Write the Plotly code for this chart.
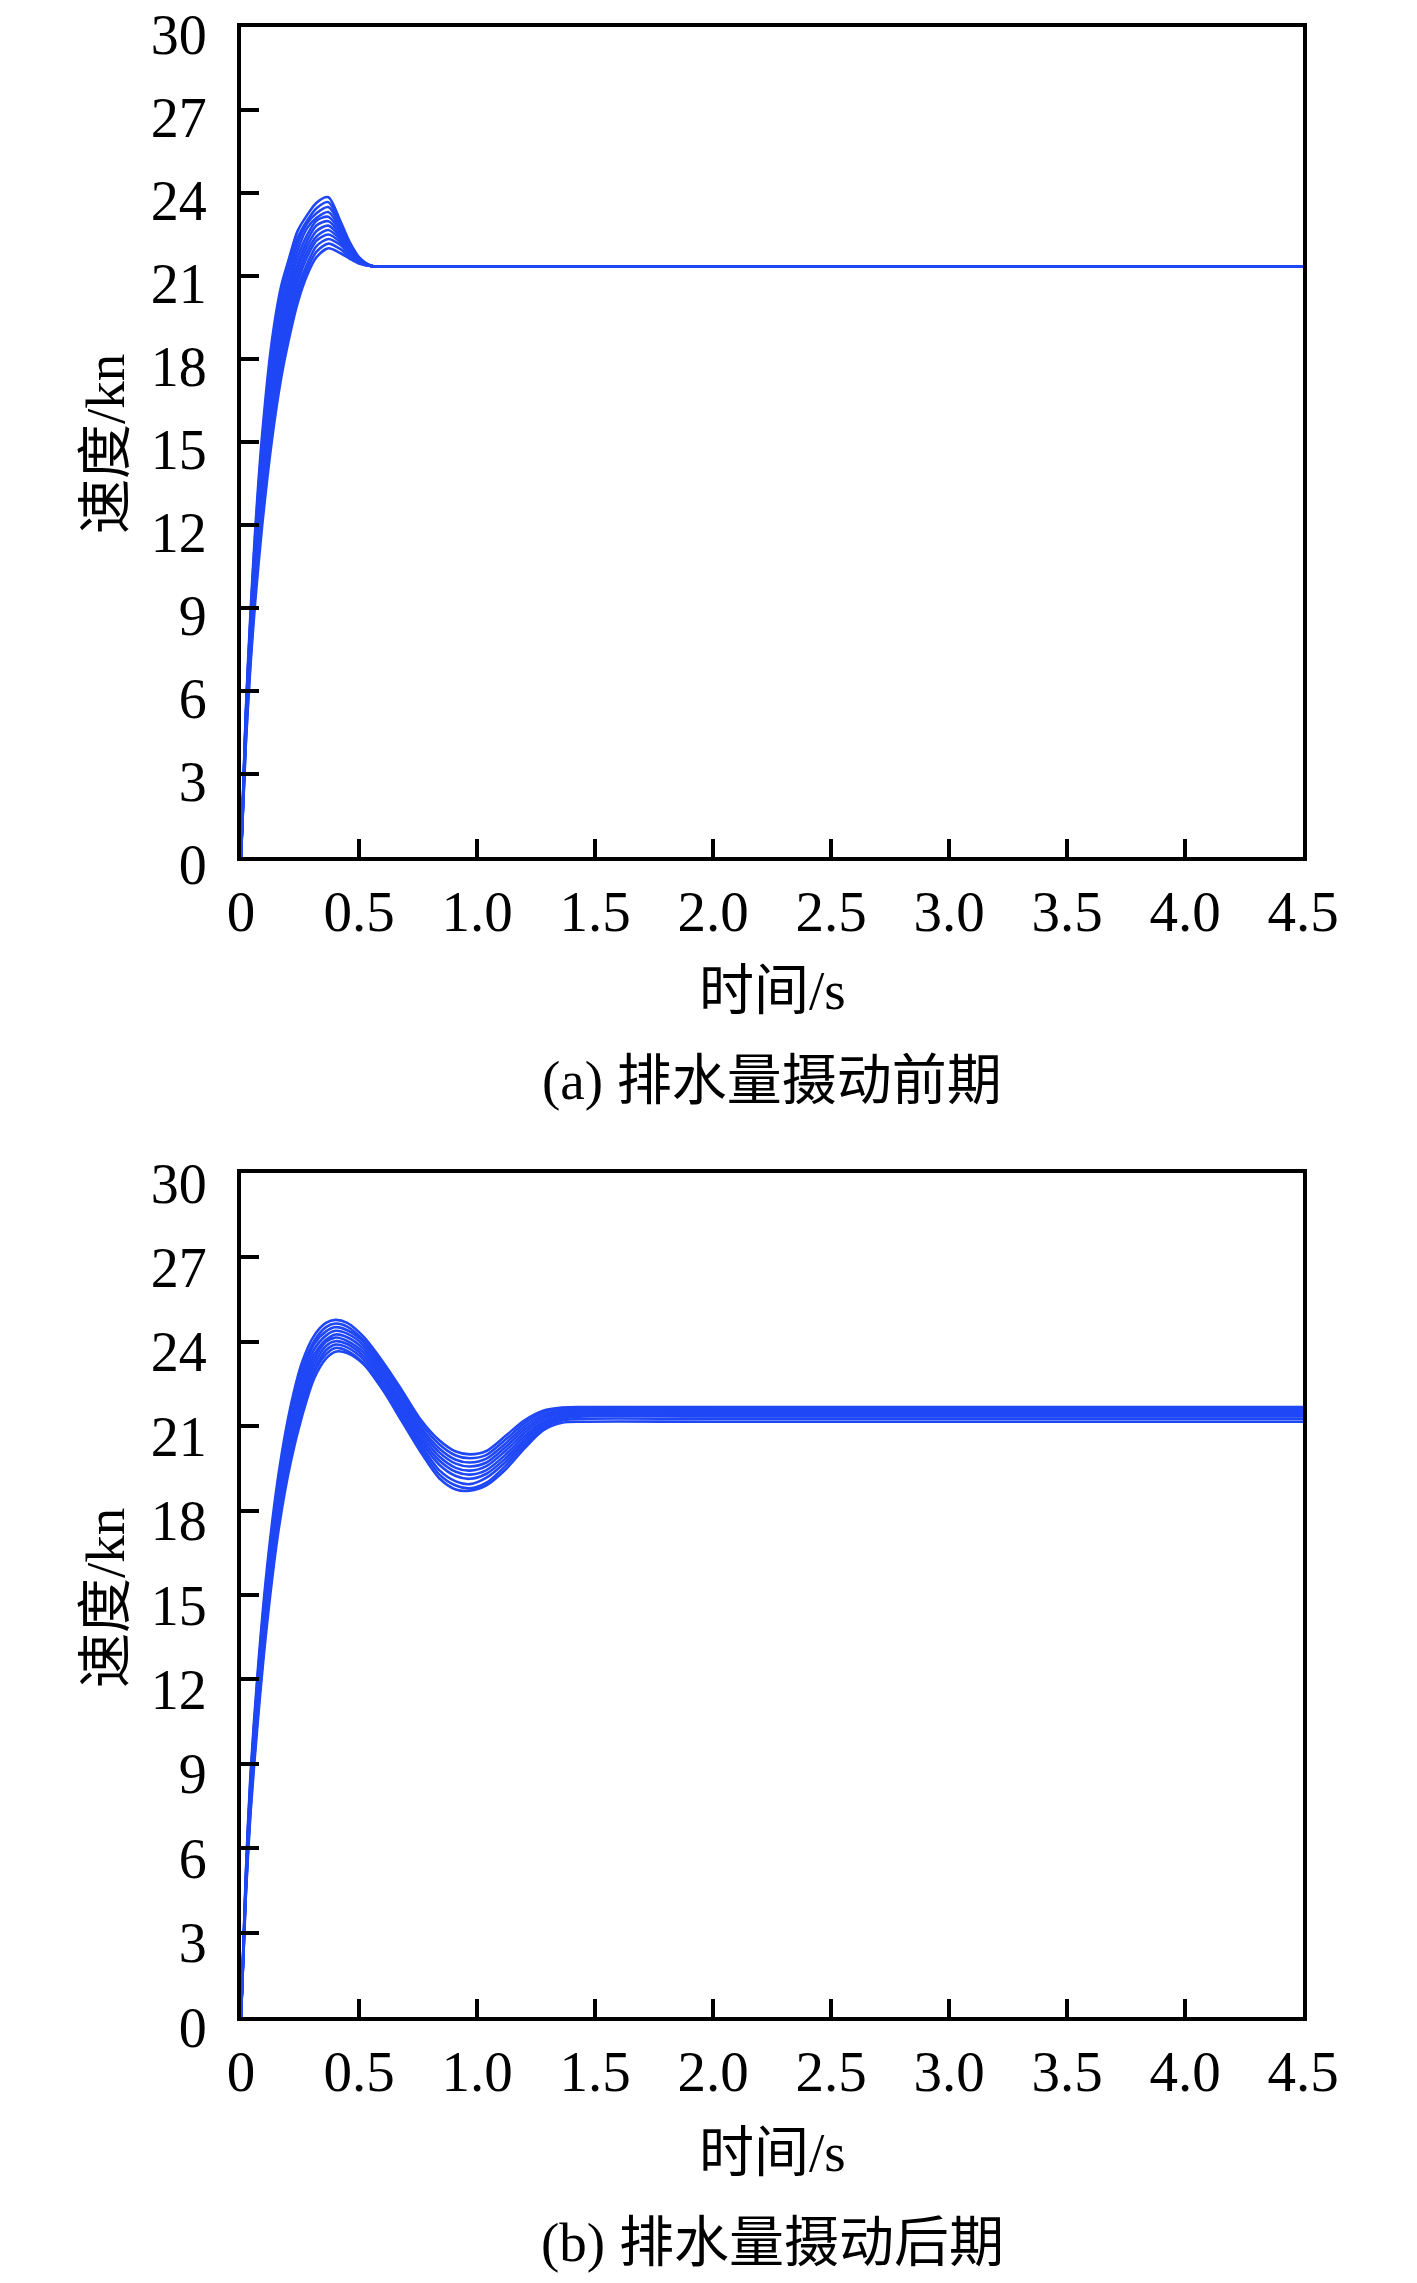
import plotly.graph_objects as go

# ---------------- data ----------------
# (a) 排水量摄动前期  -- time (s) and speed curves (kn)
t_a = [0, 0.02, 0.04, 0.06, 0.09, 0.13, 0.17, 0.20, 0.24, 0.28, 0.32, 0.37, 0.42, 0.46, 0.50, 0.55, 0.60, 1.0, 4.5]
a0 = [0, 5.2, 8.8, 11.8, 15.3, 18.6, 20.63, 21.53, 22.63, 23.2, 23.65, 23.85, 23.0, 22.23, 21.68, 21.37, 21.35, 21.35, 21.35]
a1 = [0, 5.1, 8.6, 11.6, 15.0, 18.3, 20.33, 21.28, 22.38, 23.0, 23.45, 23.67, 22.9, 22.18, 21.66, 21.37, 21.35, 21.35, 21.35]
a2 = [0, 5.0, 8.5, 11.3, 14.7, 18.0, 20.03, 21.03, 22.18, 22.9, 23.27, 23.49, 22.83, 22.13, 21.63, 21.37, 21.35, 21.35, 21.35]
a3 = [0, 4.9, 8.3, 11.1, 14.4, 17.7, 19.73, 20.73, 21.93, 22.73, 23.1, 23.31, 22.73, 22.08, 21.61, 21.37, 21.35, 21.35, 21.35]
a4 = [0, 4.8, 8.1, 10.9, 14.1, 17.4, 19.43, 20.48, 21.68, 22.48, 23.0, 23.14, 22.63, 22.03, 21.59, 21.37, 21.35, 21.35, 21.35]
a5 = [0, 4.7, 7.9, 10.6, 13.8, 17.1, 19.1, 20.23, 21.43, 22.28, 22.83, 22.98, 22.53, 21.98, 21.57, 21.36, 21.35, 21.35, 21.35]
a6 = [0, 4.6, 7.8, 10.4, 13.5, 16.7, 18.8, 19.93, 21.23, 22.08, 22.63, 22.82, 22.43, 21.93, 21.55, 21.36, 21.35, 21.35, 21.35]
a7 = [0, 4.5, 7.6, 10.2, 13.3, 16.3, 18.5, 19.73, 20.98, 21.88, 22.43, 22.66, 22.33, 21.88, 21.53, 21.36, 21.35, 21.35, 21.35]
a8 = [0, 4.4, 7.4, 9.9, 13.0, 16.0, 18.2, 19.43, 20.78, 21.68, 22.28, 22.5, 22.23, 21.83, 21.51, 21.36, 21.35, 21.35, 21.35]
a9 = [0, 4.3, 7.3, 9.7, 12.7, 15.7, 17.9, 19.18, 20.53, 21.43, 22.08, 22.34, 22.13, 21.78, 21.49, 21.36, 21.35, 21.35, 21.35]
a10 = [0, 4.1, 7.1, 9.5, 12.4, 15.3, 17.6, 18.9, 20.28, 21.23, 21.88, 22.17, 21.98, 21.7, 21.47, 21.36, 21.35, 21.35, 21.35]
a11 = [0, 4.0, 6.9, 9.2, 12.0, 15.0, 17.3, 18.6, 20.03, 21.03, 21.68, 22.0, 21.83, 21.63, 21.45, 21.36, 21.35, 21.35, 21.35]
curves_a = [a0, a1, a2, a3, a4, a5, a6, a7, a8, a9, a10, a11]

# (b) 排水量摄动后期
t_b = [0, 0.02, 0.04, 0.07, 0.11, 0.16, 0.21, 0.26, 0.31, 0.36, 0.40, 0.45, 0.52, 0.60, 0.68, 0.76, 0.84, 0.91, 0.97, 1.04, 1.12, 1.20, 1.28, 1.36, 1.45, 2.0, 4.5]
b0 = [0, 5.0, 8.6, 12.2, 15.95, 19.35, 21.7, 23.3, 24.22, 24.67, 24.78, 24.67, 24.17, 23.3, 22.3, 21.25, 20.5, 20.1, 20.0, 20.12, 20.65, 21.2, 21.55, 21.66, 21.68, 21.68, 21.68]
b1 = [0, 4.91, 8.44, 12.0, 15.73, 19.13, 21.48, 23.08, 24.03, 24.52, 24.65, 24.54, 24.04, 23.18, 22.18, 21.12, 20.36, 19.96, 19.86, 19.98, 20.52, 21.09, 21.5, 21.62, 21.64, 21.64, 21.64]
b2 = [0, 4.82, 8.29, 11.8, 15.51, 18.91, 21.26, 22.86, 23.92, 24.37, 24.52, 24.41, 23.99, 23.06, 22.06, 20.99, 20.21, 19.81, 19.71, 19.85, 20.38, 20.98, 21.42, 21.56, 21.6, 21.6, 21.6]
b3 = [0, 4.73, 8.13, 11.6, 15.28, 18.68, 21.03, 22.63, 23.73, 24.22, 24.39, 24.29, 23.87, 22.93, 21.93, 20.87, 20.07, 19.67, 19.57, 19.71, 20.25, 20.87, 21.34, 21.51, 21.56, 21.56, 21.56]
b4 = [0, 4.64, 7.98, 11.4, 15.06, 18.46, 20.81, 22.41, 23.54, 24.07, 24.26, 24.16, 23.74, 22.81, 21.81, 20.74, 19.92, 19.52, 19.42, 19.58, 20.12, 20.76, 21.26, 21.45, 21.52, 21.52, 21.52]
b5 = [0, 4.56, 7.82, 11.2, 14.84, 18.24, 20.59, 22.19, 23.36, 24.0, 24.15, 24.03, 23.61, 22.69, 21.69, 20.61, 19.78, 19.38, 19.28, 19.44, 19.98, 20.64, 21.17, 21.39, 21.47, 21.47, 21.47]
b6 = [0, 4.47, 7.67, 11.0, 14.62, 18.02, 20.37, 21.97, 23.17, 23.85, 24.02, 23.92, 23.48, 22.57, 21.57, 20.48, 19.63, 19.23, 19.13, 19.31, 19.85, 20.53, 21.09, 21.33, 21.42, 21.42, 21.42]
b7 = [0, 4.38, 7.51, 10.8, 14.39, 17.79, 20.14, 21.84, 22.98, 23.7, 23.9, 23.8, 23.36, 22.44, 21.44, 20.36, 19.44, 19.04, 18.94, 19.17, 19.72, 20.42, 21.01, 21.27, 21.35, 21.35, 21.35]
b8 = [0, 4.29, 7.36, 10.6, 14.17, 17.57, 19.92, 21.62, 22.89, 23.55, 23.78, 23.68, 23.23, 22.32, 21.32, 20.23, 19.29, 18.89, 18.79, 18.99, 19.58, 20.31, 20.93, 21.2, 21.26, 21.26, 21.26]
b9 = [0, 4.2, 7.2, 10.4, 13.95, 17.35, 19.7, 21.4, 22.7, 23.4, 23.65, 23.6, 23.2, 22.3, 21.2, 20.1, 19.15, 18.75, 18.71, 18.9, 19.45, 20.2, 20.85, 21.12, 21.16, 21.16, 21.16]
curves_b = [b0, b1, b2, b3, b4, b5, b6, b7, b8, b9]

x_tick_vals = [0, 0.5, 1.0, 1.5, 2.0, 2.5, 3.0, 3.5, 4.0, 4.5]
x_tick_text = ["0", "0.5", "1.0", "1.5", "2.0", "2.5", "3.0", "3.5", "4.0", "4.5"]
y_tick_vals = [0, 3, 6, 9, 12, 15, 18, 21, 24, 27, 30]
y_tick_text = ["0", "3", "6", "9", "12", "15", "18", "21", "24", "27", "30"]

x_title = "时间/s"
y_title = "速度/kn"
caption_a = "(a) 排水量摄动前期"
caption_b = "(b) 排水量摄动后期"

# ---------------- figure ----------------
# the page body adds an 8 px margin, so the figure is drawn 16 px smaller
# and every position below is given in window pixels, then shifted by 8.
OFF = 8
W, H = 1417 - 2 * OFF, 2283 - 2 * OFF
LINE = "#1f47f5"
FONT = "Liberation Serif, Times New Roman, Noto Sans CJK SC, serif"

fig = go.Figure()
for c in curves_a:
    fig.add_trace(go.Scatter(x=t_a, y=c, mode="lines", xaxis="x", yaxis="y",
                             line=dict(color=LINE, width=2.6, shape="spline", smoothing=0.8),
                             showlegend=False, hoverinfo="skip"))
for c in curves_b:
    fig.add_trace(go.Scatter(x=t_b, y=c, mode="lines", xaxis="x2", yaxis="y2",
                             line=dict(color=LINE, width=2.6, shape="spline", smoothing=0.8),
                             showlegend=False, hoverinfo="skip"))

def xaxis(domain, anchor):
    return dict(domain=domain, anchor=anchor, range=[0, 4.5], tickmode="array",
                tickvals=x_tick_vals, ticktext=x_tick_text, ticks="inside", ticklen=18,
                tickwidth=4, tickcolor="black", showline=True, linewidth=4, linecolor="black",
                mirror=True, showgrid=False, zeroline=False, automargin=False,
                ticklabelstandoff=2, ticklabeloverflow="allow",
                tickfont=dict(family=FONT, size=57, color="black"))

def yaxis(domain, anchor, shift):
    return dict(domain=domain, anchor=anchor, range=[0, 30], tickmode="array",
                tickvals=y_tick_vals, ticktext=y_tick_text, ticks="inside", ticklen=18,
                tickwidth=4, tickcolor="black", showline=True, linewidth=4, linecolor="black",
                mirror=True, showgrid=False, zeroline=False, automargin=False,
                ticklabelstandoff=19, ticklabelshift=shift, ticklabeloverflow="allow",
                tickfont=dict(family=FONT, size=56, color="black"))

def px_x(v):
    return (v - OFF) / W

def px_y(v):
    return 1 - (v - OFF) / H

xd = [px_x(241), px_x(1303)]
ya = [px_y(857), px_y(27)]
yb = [px_y(2017), px_y(1173)]

fig.update_layout(
    template="none",
    width=W, height=H, margin=dict(l=0, r=0, t=0, b=0, pad=0),
    paper_bgcolor="white", plot_bgcolor="white", showlegend=False,
    xaxis=xaxis(xd, "y"), yaxis=yaxis(ya, "x", 7),
    xaxis2=xaxis(xd, "y2"), yaxis2=yaxis(yb, "x2", 10),
)

def ann(text, xpx, ypx, angle=0, size=55):
    fig.add_annotation(text=text, xref="paper", yref="paper", x=px_x(xpx), y=px_y(ypx),
                       xanchor="center", yanchor="middle", showarrow=False, textangle=angle,
                       font=dict(family=FONT, size=size, color="black"))

ann(y_title, 105, 444, angle=-90)
ann(x_title, 772, 990)
ann(caption_a, 772, 1080)
ann(y_title, 105, 1598, angle=-90)
ann(x_title, 772, 2152)
ann(caption_b, 772, 2242)

fig.write_html("out.html")
